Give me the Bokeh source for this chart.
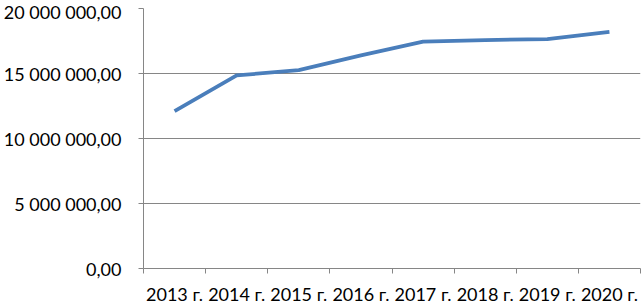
from bokeh.plotting import figure
from bokeh.models import FixedTicker, Range1d, ColumnDataSource
from bokeh.embed import file_html
from bokeh.resources import INLINE

years = ["2013 г.", "2014 г.", "2015 г.", "2016 г.", "2017 г.", "2018 г.", "2019 г.", "2020 г."]
values = [12100000, 14850000, 15260000, 16400000, 17450000, 17570000, 17650000, 18200000]
y_ticks = [0, 5000000, 10000000, 15000000, 20000000]
y_tick_labels = ["0,00", "5 000 000,00", "10 000 000,00", "15 000 000,00", "20 000 000,00"]

xs = [i + 0.5 for i in range(len(years))]
src = ColumnDataSource(dict(x=xs, y=values))

p = figure(width=642, height=307, output_backend="svg", toolbar_location=None,
           x_range=Range1d(0, len(years)), y_range=Range1d(0, 20000000),
           min_border_left=138, min_border_right=2, min_border_top=8, min_border_bottom=34)
p.outline_line_color = None
p.background_fill_color = "white"
p.border_fill_color = "white"

p.line("x", "y", source=src, line_color="#4A7EBB", line_width=3.8)

FONT = "Lato"
GRAY = "#868686"

p.xgrid.visible = False
p.ygrid.ticker = FixedTicker(ticks=y_ticks)
p.ygrid.grid_line_color = GRAY
p.ygrid.grid_line_width = 1

xa = p.xaxis[0]
xa.ticker = FixedTicker(ticks=xs, minor_ticks=list(range(len(years) + 1)))
xa.major_label_overrides = {x: lbl for x, lbl in zip(xs, years)}
xa.major_tick_out = 0
xa.major_tick_in = 0
xa.minor_tick_out = 5
xa.minor_tick_in = 0
xa.minor_tick_line_color = GRAY
xa.axis_line_color = GRAY
xa.major_label_text_font = FONT
xa.major_label_text_font_size = "18px"
xa.major_label_text_color = "black"
xa.major_label_standoff = 9

ya = p.yaxis[0]
ya.ticker = FixedTicker(ticks=y_ticks)
ya.major_label_overrides = {t: lbl for t, lbl in zip(y_ticks, y_tick_labels)}
ya.major_tick_out = 5
ya.major_tick_in = 0
ya.minor_tick_out = 0
ya.minor_tick_in = 0
ya.major_tick_line_color = GRAY
ya.axis_line_color = GRAY
ya.major_label_text_font = FONT
ya.major_label_text_font_size = "18px"
ya.major_label_text_color = "black"
ya.major_label_standoff = 17

open("out.html", "w").write(file_html(p, INLINE))
